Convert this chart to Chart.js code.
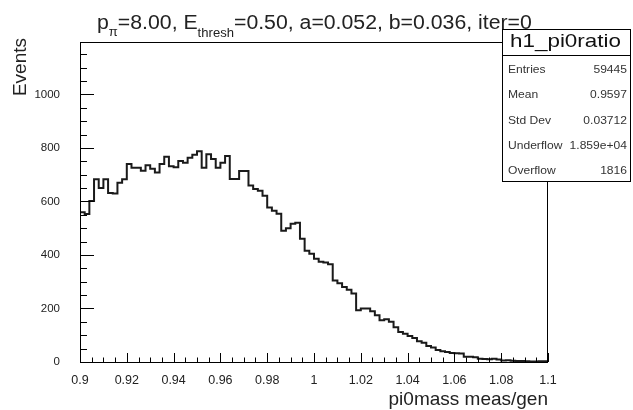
<!DOCTYPE html>
<html>
<head>
<meta charset="utf-8">
<script src="https://cdn.jsdelivr.net/npm/chart.js@4.4.1/dist/chart.umd.min.js"></script>
<style>
  html, body { margin: 0; padding: 0; background: #fff; }
</style>
</head>
<body>
<canvas id="c" width="633" height="410"></canvas>
<script>
// histogram h1_pi0ratio : 100 bins from 0.9 to 1.1
var binLow = 0.9;
var binWidth = 0.002;
var counts = [
  577, 560, 553, 602, 683, 650, 683, 632, 630, 670,
  683, 740, 726, 726, 715, 735, 722, 708, 740, 767,
  732, 728, 751, 745, 763, 775, 788, 726, 776, 759,
  726, 745, 770, 684, 684, 714, 714, 660, 647, 640,
  621, 577, 565, 554, 491, 500, 517, 520, 461, 416,
  405, 386, 375, 372, 365, 305, 294, 280, 270, 256,
  193, 200, 200, 190, 175, 156, 160, 150, 130, 112,
  106, 97, 90, 78, 72, 60, 54, 45, 40, 37,
  34, 33, 32, 20, 20, 18, 12, 11, 10, 12,
  9, 6, 7, 5, 4, 4, 3, 2, 2, 3
];
var xMin = 0.9, xMax = 1.1;
var yMin = 0, yMax = 1196;
var xTickLabels = [0.9, 0.92, 0.94, 0.96, 0.98, 1, 1.02, 1.04, 1.06, 1.08, 1.1];
var yTickLabels = [0, 200, 400, 600, 800, 1000];
var xMinorStep = 0.005;
var yMinorStep = 50;

var statNames = ['Entries', 'Mean', 'Std Dev', 'Underflow', 'Overflow'];
var statValues = ['59445', '0.9597', '0.03712', '1.859e+04', '1816'];

var FONT = '"Liberation Sans", Arial, Helvetica, sans-serif';
var INK = '#222';

// bin left edges + closing point at the upper edge
var points = counts.map(function (c, i) {
  return { x: binLow + i * binWidth, y: c };
});
points.push({ x: binLow + counts.length * binWidth, y: counts[counts.length - 1] });

// text with a horizontal stretch (the reference fonts are a bit wide)
function stretchText(ctx, txt, x, y, sx, align) {
  ctx.save();
  ctx.translate(x, y);
  ctx.scale(sx, 1);
  ctx.textAlign = align || 'left';
  ctx.fillText(txt, 0, 0);
  ctx.restore();
}

var rootStyle = {
  id: 'rootStyle',
  afterDraw: function (chart) {
    var ctx = chart.ctx;
    var a = chart.chartArea;
    var xs = chart.scales.x, ys = chart.scales.y;
    ctx.save();
    ctx.strokeStyle = '#000';
    ctx.lineWidth = 1;

    // frame
    ctx.strokeRect(a.left + 0.5, a.top + 0.5, a.right - a.left - 1, a.bottom - a.top);

    // ticks inside the frame, like ROOT
    ctx.beginPath();
    var n = Math.round((xMax - xMin) / xMinorStep);
    for (var i = 0; i <= n; i++) {
      var px = Math.round(xs.getPixelForValue(xMin + i * xMinorStep)) + 0.5;
      var len = (i % 4 === 0) ? 9 : 4.5;
      ctx.moveTo(px, a.bottom);
      ctx.lineTo(px, a.bottom - len);
    }
    for (var v = yMin; v <= yMax; v += yMinorStep) {
      var py = Math.round(ys.getPixelForValue(v)) + 0.5;
      var l2 = (v % 200 === 0) ? 14 : 7;
      ctx.moveTo(a.left, py);
      ctx.lineTo(a.left + l2, py);
    }
    ctx.stroke();

    ctx.fillStyle = INK;
    ctx.textBaseline = 'alphabetic';

    // axis titles
    ctx.font = '19px ' + FONT;
    stretchText(ctx, 'pi0mass meas/gen', a.right, 405, 1.0, 'right');

    ctx.save();
    ctx.translate(26, 38);
    ctx.rotate(-Math.PI / 2);
    ctx.textAlign = 'right';
    ctx.fillText('Events', 0, 0);
    ctx.restore();

    // stats box
    var bx = 502.5, by = 29.5, bw = 128, bh = 152;
    ctx.fillStyle = '#fff';
    ctx.fillRect(bx, by, bw, bh);
    ctx.strokeStyle = '#000';
    ctx.strokeRect(bx, by, bw, bh);
    ctx.beginPath();
    ctx.moveTo(bx, 55.5);
    ctx.lineTo(bx + bw, 55.5);
    ctx.stroke();

    ctx.fillStyle = '#111';
    ctx.font = '19px ' + FONT;
    stretchText(ctx, 'h1_pi0ratio', 510, 47, 1.18);

    ctx.fillStyle = '#333';
    ctx.font = '10.5px ' + FONT;
    for (var k = 0; k < statNames.length; k++) {
      var yy = 73 + k * 25.3;
      stretchText(ctx, statNames[k], 508, yy, 1.15);
      stretchText(ctx, statValues[k], 627, yy, 1.15, 'right');
    }

    // main title with subscripts (on top)
    ctx.fillStyle = INK;
    var big = '19.5px ' + FONT, small = '12px ' + FONT;
    var parts = [
      ['p', big, 0], ['\u03c0', small, 7], ['=8.00, E', big, 0],
      ['thresh', small, 8], ['=0.50, a=0.052, b=0.036, iter=0', big, 0]
    ];
    var sx = 1.09;
    var cx = 97;
    parts.forEach(function (p) {
      ctx.font = p[1];
      stretchText(ctx, p[0], cx, 29 + p[2], sx);
      cx += ctx.measureText(p[0]).width * sx;
    });
    ctx.restore();
  }
};

var ctx = document.getElementById('c').getContext('2d');
var chart = new Chart(ctx, {
  type: 'line',
  data: {
    datasets: [{
      label: 'h1_pi0ratio',
      data: points,
      stepped: 'after',
      borderColor: '#1a1a1a',
      borderWidth: 2,
      pointRadius: 0,
      fill: false
    }]
  },
  options: {
    responsive: false,
    animation: false,
    devicePixelRatio: 1,
    layout: { padding: { left: 0, right: 85, top: 42, bottom: 0 } },
    plugins: {
      legend: { display: false },
      tooltip: { enabled: false },
      title: { display: false }
    },
    scales: {
      x: {
        type: 'linear',
        min: xMin,
        max: xMax,
        grid: { display: false },
        border: { display: false },
        afterBuildTicks: function (s) {
          s.ticks = xTickLabels.map(function (v) { return { value: v }; });
        },
        ticks: {
          autoSkip: false,
          maxRotation: 0,
          padding: 3,
          color: INK,
          font: { family: FONT, size: 12.5 },
          callback: function (v) { return String(v); }
        },
        afterFit: function (s) { s.height = 48; }
      },
      y: {
        type: 'linear',
        min: yMin,
        max: yMax,
        grid: { display: false },
        border: { display: false },
        afterBuildTicks: function (s) {
          s.ticks = yTickLabels.map(function (v) { return { value: v }; });
        },
        ticks: {
          autoSkip: false,
          padding: 12,
          color: INK,
          font: { family: FONT, size: 11.5 },
          callback: function (v) { return String(v); }
        },
        afterFit: function (s) { s.width = 80; }
      }
    }
  },
  plugins: [rootStyle]
});
</script>
</body>
</html>
